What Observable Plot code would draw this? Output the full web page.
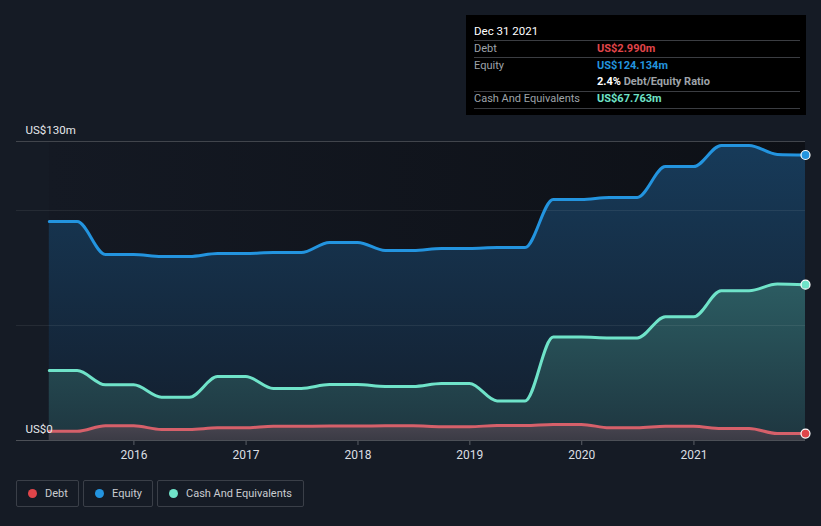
<!DOCTYPE html>
<html>
<head>
<meta charset="utf-8">
<script src="https://cdn.jsdelivr.net/npm/d3@7"></script>
<script src="https://cdn.jsdelivr.net/npm/@observablehq/plot@0.6"></script>
<style>
  html, body { margin:0; padding:0; background:#151b25; width:821px; height:526px; overflow:hidden; font-family: Roboto, "Noto Sans", sans-serif; }
  #wrap { position:relative; width:821px; height:526px; }
  #chart svg g[aria-label^="x-axis"] text { fill:#dcdfe3; }
  .tip { position:absolute; left:466px; top:15px; width:340px; height:100px; background:#000; font-size:11px; color:#9ea3a9; }
  .tip .t { position:absolute; left:8px; top:9px; color:#fff; font-size:11.5px; }
  .tip .hl { position:absolute; left:8px; width:326px; height:1px; background:#3b3d42; }
  .tip .r { position:absolute; left:8px; }
  .tip .v { position:absolute; left:131px; font-weight:bold; }
  .legend { position:absolute; top:480px; left:0; height:27px; }
  .lg { position:absolute; top:0; height:25px; border:1px solid #3a3f48; border-radius:2px; font-size:11px; color:#c9ccd0; line-height:25px; }
  .lg .d { position:absolute; left:11px; top:8px; width:9px; height:9px; border-radius:50%; }
  .lg span.l { position:absolute; left:28px; }
</style>
</head>
<body>
<div id="wrap">
  <div id="chart"></div>
  <div class="tip">
    <div class="t">Dec 31 2021</div>
    <div class="hl" style="top:25px"></div>
    <div class="r" style="top:27px">Debt</div><div class="v" style="top:27px;color:#e0454a">US$2.990m</div>
    <div class="hl" style="top:42px"></div>
    <div class="r" style="top:44px">Equity</div><div class="v" style="top:44px;color:#2394df">US$124.134m</div>
    <div class="v" style="top:60px;color:#fff">2.4% <span style="color:#9ea3a9">Debt/Equity Ratio</span></div>
    <div class="hl" style="top:76px"></div>
    <div class="r" style="top:77px">Cash And Equivalents</div><div class="v" style="top:77px;color:#6fe3c9">US$67.763m</div>
    <div class="hl" style="top:93px"></div>
  </div>
  <div class="legend">
    <div class="lg" style="left:16px;width:61px"><div class="d" style="background:#e0454a"></div><span class="l">Debt</span></div>
    <div class="lg" style="left:83px;width:68px"><div class="d" style="background:#2394df"></div><span class="l">Equity</span></div>
    <div class="lg" style="left:157px;width:145px"><div class="d" style="background:#6fe3c9"></div><span class="l">Cash And Equivalents</span></div>
  </div>
</div>
<script>
const quarters = ["2015-03-31","2015-06-30","2015-09-30","2015-12-31","2016-03-31","2016-06-30","2016-09-30","2016-12-31",
  "2017-03-31","2017-06-30","2017-09-30","2017-12-31","2018-03-31","2018-06-30","2018-09-30","2018-12-31",
  "2019-03-31","2019-06-30","2019-09-30","2019-12-31","2020-03-31","2020-06-30","2020-09-30","2020-12-31",
  "2021-03-31","2021-06-30","2021-09-30","2021-12-31"];
const equity = [95.2,95.2,80.9,80.9,80.0,80.0,81.3,81.3,81.7,81.7,86.1,86.1,82.6,82.6,83.5,83.5,83.9,83.9,104.8,104.8,105.7,105.7,119.1,119.1,128.3,128.3,124.4,124.134];
const cash = [30.4,30.4,24.2,24.2,18.8,18.8,27.8,27.8,22.6,22.6,24.3,24.3,23.5,23.5,24.8,24.8,17.2,17.2,45.0,45.0,44.6,44.6,53.8,53.8,65.1,65.1,68.0,67.763];
const debt = [4.0,4.0,6.4,6.4,4.8,4.8,5.5,5.5,6.2,6.2,6.3,6.3,6.4,6.4,6.0,6.0,6.5,6.5,7.0,7.0,5.5,5.5,6.2,6.2,5.2,5.2,3.0,2.99];
const yearTicks = ["2016","2017","2018","2019","2020","2021"];
const gridValues = [50, 100];
const yLabels = [{v:130, t:"US$130m"}, {v:0, t:"US$0"}];

const colors = {equity:"#2394df", cash:"#6fe3c9", debt:"#d6606a", debtDot:"#e0454a"};

const data = quarters.map((q,i)=>({date:new Date(q), equity:equity[i], cash:cash[i], debt:debt[i]}));
const last = [data[data.length-1]];
const start = data[0].date, end = data[data.length-1].date;

const curve = "monotone-x";
const plot = Plot.plot({
  width: 821, height: 470,
  marginTop: 141, marginBottom: 30, marginLeft: 16, marginRight: 16,
  style: {background:"transparent", color:"#5a5f66", fontFamily:"Roboto, sans-serif", fontSize:"12px"},
  x: {type:"utc", domain:[new Date("2014-12-14"), new Date("2021-12-31")],
      ticks: yearTicks.map(y=>new Date(y+"-01-01")), tickFormat: d3.utcFormat("%Y"), tickSize:5, tickPadding:5, label:null},
  y: {domain:[0,130], axis:null},
  marks: [
    Plot.rect([{}], {x1: ()=>start, x2: ()=>end, y1: 0, y2: 130, fill:"url(#bgGrad)"}),
    Plot.areaY(data, {x:"date", y:"equity", fill:"url(#eqGrad)", curve}),
    Plot.areaY(data, {x:"date", y:"cash", fill:"url(#cashGrad)", curve}),
    Plot.areaY(data, {x:"date", y:"debt", fill:"url(#debtGrad)", curve}),
    Plot.ruleY(gridValues, {stroke:"#ffffff", strokeOpacity:0.07}),
    Plot.ruleY([130], {stroke:"#41454c"}),
    Plot.ruleY([0], {stroke:"#4c5057"}),
    Plot.lineY(data, {x:"date", y:"equity", stroke:colors.equity, strokeWidth:3, curve}),
    Plot.lineY(data, {x:"date", y:"cash", stroke:colors.cash, strokeWidth:3, curve}),
    Plot.lineY(data, {x:"date", y:"debt", stroke:colors.debt, strokeWidth:3, curve}),
    Plot.dot(last, {x:"date", y:"equity", r:4.5, fill:colors.equity, stroke:"#fff", strokeWidth:1.2}),
    Plot.dot(last, {x:"date", y:"cash", r:4.5, fill:colors.cash, stroke:"#fff", strokeWidth:1.2}),
    Plot.dot(last, {x:"date", y:"debt", r:4.5, fill:colors.debtDot, stroke:"#fff", strokeWidth:1.2}),
    Plot.text(yLabels, {y:"v", text:"t", frameAnchor:"left", dx:9, dy:-11, textAnchor:"start", fill:"#e6e8eb", fontSize:11.5})
  ]
});
const svg = d3.select(plot);
const defs = svg.insert("defs", ":first-child");
function grad(id, x1,y1,x2,y2, stops){
  const g = defs.append("linearGradient").attr("id", id).attr("gradientUnits","userSpaceOnUse")
    .attr("x1",x1).attr("y1",y1).attr("x2",x2).attr("y2",y2);
  stops.forEach(([o,c])=>g.append("stop").attr("offset",o).attr("stop-color",c));
}
grad("bgGrad", 48,0,805,0, [[0,"#141923"],[1,"#0d1016"]]);
grad("eqGrad", 0,141,0,440, [[0,"#173b5a"],[1,"#131e2d"]]);
grad("cashGrad", 0,141,0,440, [[0,"#336c70"],[0.5,"#2b5a60"],[1,"#1e3640"]]);
grad("debtGrad", 0,420,0,440, [[0,"#4c4853"],[1,"#3b3b45"]]);
document.getElementById("chart").appendChild(plot);
</script>
</body>
</html>
